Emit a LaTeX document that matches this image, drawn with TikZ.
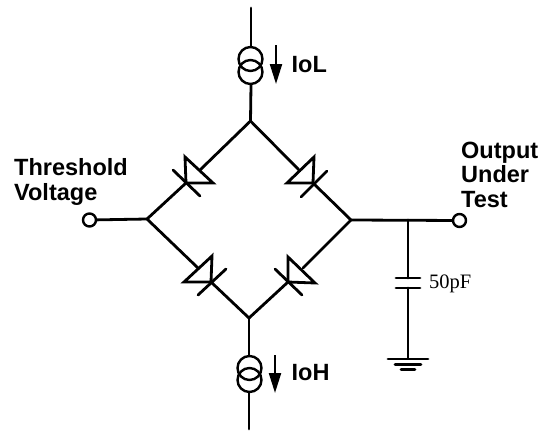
\documentclass[tikz,border=0pt]{standalone}
\usepackage{fontspec}
\setmainfont{Liberation Sans}
\newfontfamily\seriffam{Liberation Serif}
\usetikzlibrary{arrows.meta}
\tikzset{
  wire/.style={line width=2.8pt,line cap=round,line join=miter},
  thin wire/.style={wire,line width=2.4pt},
  term/.style={circle,draw,line width=2.4pt,minimum size=13pt,inner sep=0pt,fill=white},
  lab/.style={font=\bfseries\fontsize{23.5}{24.5}\selectfont,inner sep=0pt},
  flow/.style={line width=2.2pt,-{Triangle[length=20pt,width=12pt]}}
}
\begin{document}
\begin{tikzpicture}[x=1pt,y=-1pt]
\useasboundingbox (0,0) rectangle (551,431);
% bridge vertices
\coordinate (T) at (250.5,121);
\coordinate (L) at (147,219);
\coordinate (R) at (351,220);
\coordinate (B) at (249,318);
% wires
\coordinate (topend) at (251,8);
\coordinate (botend) at (249,429);
\coordinate (c1) at (250.5,59);
\coordinate (c2) at (250.5,72);
\coordinate (c3) at (249.5,368);
\coordinate (c4) at (249.5,380);
\draw[wire] (topend) -- (251,46);
\draw[wire] (251,85) -- (T);
\draw[wire] (B) -- (249,355);
\draw[wire] (249,393) -- (botend);
\draw[thin wire] (c1) circle[radius=12];
\draw[thin wire] (c2) circle[radius=12];
\draw[thin wire] (c3) circle[radius=12];
\draw[thin wire] (c4) circle[radius=12];
% arrows
\coordinate (a1s) at (276,45);
\coordinate (a1e) at (276,84);
\coordinate (a2s) at (275,355);
\coordinate (a2e) at (275,393);
\draw[flow] (a1s) -- (a1e);
\draw[flow] (a2s) -- (a2e);
% diode UL
\draw[wire] (T) -- (200,170);
\draw[wire] (186,183) -- (L);
\draw[wire] (185,157) -- (213,183) -- (186,183) -- cycle;
\draw[wire] (173,170) -- (200,196);
% diode UR
\draw[wire] (T) -- (300,171);
\draw[wire] (313,183) -- (R);
\draw[wire] (314,157) -- (287,183) -- (313,183) -- cycle;
\draw[wire] (327,171) -- (301,197);
% diode LL
\draw[wire] (L) -- (198,268);
\draw[wire] (211,282) -- (B);
\draw[wire] (212,256) -- (184,282) -- (211,282) -- cycle;
\draw[wire] (226,269) -- (198,295);
% diode LR
\draw[wire] (R) -- (303,268);
\draw[wire] (288,282) -- (B);
\draw[wire] (288,257) -- (315,283) -- (288,282) -- cycle;
\draw[wire] (275,269) -- (302,295);
% terminals
\node[term] (tl) at (89.5,220) {};
\node[term] (tr) at (459.5,220.5) {};
\draw[wire] (tl) -- (L);
\draw[wire] (R) -- (tr);
% capacitor
\coordinate (J) at (408,220);
\draw[wire] (J) -- (408,278);
\draw[wire] (408,288) -- (408,358);
\draw[wire] (396,278) -- (420,278);
\draw[wire] (396,288) -- (420,288);
% ground
\draw[wire] (388,359) -- (428,359);
\draw[wire] (395,364.5) -- (421,364.5);
\draw[wire] (401,369.5) -- (415,369.5);
% labels
\node[lab,anchor=base west] (iol) at (291.5,72) {IoL};
\node[lab,anchor=base west] (ioh) at (291.5,380) {IoH};
\node[lab,align=left,anchor=base west] (thr) at (14,200) {Threshold\\Voltage};
\node[lab,align=left,anchor=base west] (out) at (461,207) {Output\\Under\\Test};
\node[font=\seriffam\fontsize{20.5}{22}\selectfont,inner sep=0pt,anchor=base west] (cap) at (429,288) {50pF};
\end{tikzpicture}
\end{document}
